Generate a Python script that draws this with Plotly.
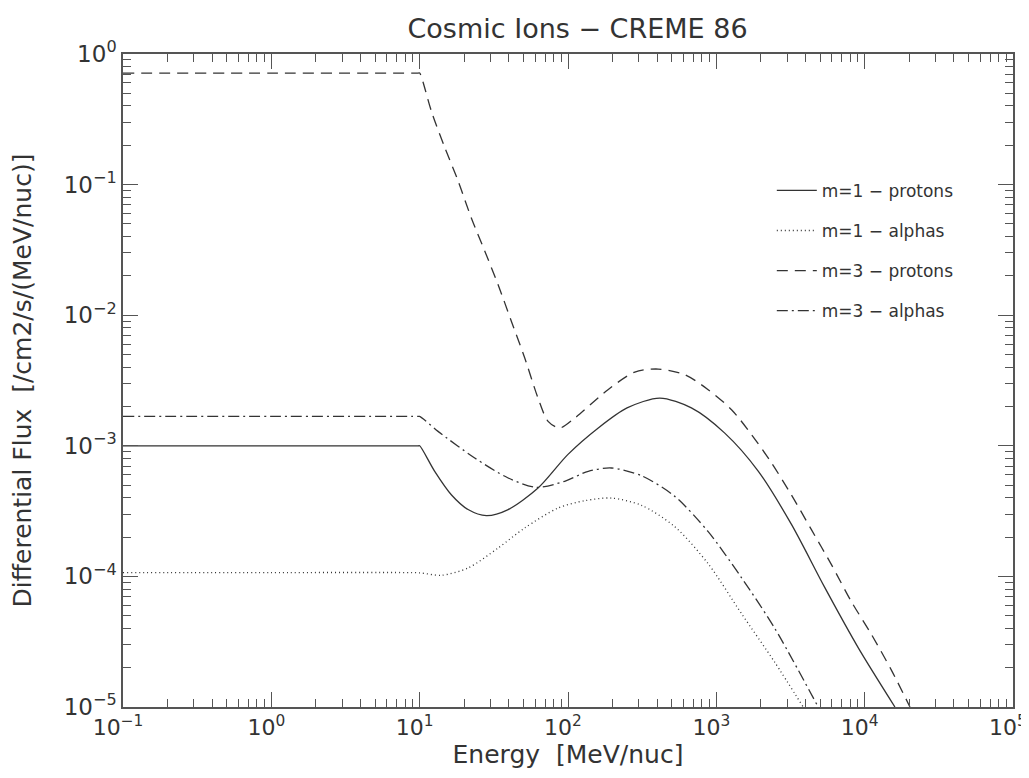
import plotly.graph_objects as go

# ---------------- data ----------------
E_p1 = [0.1, 1, 9, 9.8, 10, 12.6, 16.4, 21.2, 28.2, 39.5, 62.8, 100, 160, 250, 416, 679, 1140, 1915, 3210, 5390, 9040, 16000]
F_p1 = [1.0e-3, 1.0e-3, 1.0e-3, 1.0e-3, 1.0e-3, 6.4e-4, 4.2e-4, 3.25e-4, 2.92e-4, 3.25e-4, 4.75e-4, 8.6e-4, 1.37e-3,
        1.95e-3, 2.32e-3, 1.95e-3, 1.25e-3, 6.4e-4, 2.5e-4, 8.2e-5, 2.85e-5, 1.0e-5]

E_a1 = [0.1, 1, 8, 10, 14, 21.2, 33.8, 51.1, 85.7, 130, 196, 313, 525, 881, 1476, 2477, 3850]
F_a1 = [1.07e-4, 1.07e-4, 1.07e-4, 1.065e-4, 1.02e-4, 1.16e-4, 1.65e-4, 2.35e-4, 3.34e-4, 3.80e-4, 3.98e-4,
        3.5e-4, 2.4e-4, 1.25e-4, 5.2e-5, 2.2e-5, 1.0e-5]

E_p3 = [0.1, 1, 9, 9.8, 10, 10.5, 12.0, 14.8, 18.2, 22.3, 27.5, 33.8, 41.5, 51.1, 62.8, 73.4, 88, 111, 186, 282, 405,
        614, 881, 1266, 1726, 2355, 3210, 4375, 5970, 8140, 11100, 15200, 20200]
F_p3 = [0.715, 0.715, 0.715, 0.715, 0.715, 0.617, 0.364, 0.191, 0.106, 0.0555, 0.0309, 0.0171, 0.0090, 0.0047, 0.00232,
        0.00154, 0.00137, 0.00163, 0.00269, 0.00367, 0.00387, 0.0035, 0.00269, 0.00189, 0.00122, 7.4e-4, 4.2e-4,
        2.28e-4, 1.23e-4, 6.4e-5, 3.6e-5, 1.9e-5, 1.0e-5]

E_a3 = [0.1, 1, 9, 9.8, 10, 13.3, 23.5, 39.5, 61.2, 95, 137, 196, 313, 525, 881, 1476, 2477, 4860]
F_a3 = [1.68e-3, 1.68e-3, 1.68e-3, 1.68e-3, 1.68e-3, 1.29e-3, 8.07e-4, 5.67e-4, 4.81e-4, 5.35e-4, 6.38e-4, 6.76e-4,
        5.9e-4, 4.1e-4, 2.2e-4, 9.8e-5, 4.0e-5, 1.0e-5]

series_names = ["m=1 \u2212 protons", "m=1 \u2212 alphas", "m=3 \u2212 protons", "m=3 \u2212 alphas"]

x_major = [0.1, 1, 10, 100, 1000, 10000, 100000]
x_major_text = ["10<sup>\u22121</sup>", "10<sup>0</sup>", "10<sup>1</sup>", "10<sup>2</sup>",
                "10<sup>3</sup>", "10<sup>4</sup>", "10<sup>5</sup>"]
y_major = [1e-5, 1e-4, 1e-3, 1e-2, 1e-1, 1]
y_major_text = ["10<sup>\u22125</sup>", "10<sup>\u22124</sup>", "10<sup>\u22123</sup>",
                "10<sup>\u22122</sup>", "10<sup>\u22121</sup>", "10<sup>0</sup>"]

# ---------------- figure ----------------
INK = "#333333"
AX = "#555555"
FONT = "DejaVu Sans"

x_minor = [m * 10 ** e for e in range(-1, 5) for m in range(2, 10)]
y_minor = [m * 10 ** e for e in range(-5, 0) for m in range(2, 10)]

dashes = ["solid", "1px,3px", "11px,7px", "11px,4px,2px,4px"]
data = [(E_p1, F_p1), (E_a1, F_a1), (E_p3, F_p3), (E_a3, F_a3)]

fig = go.Figure()
for i, ((xs, ys), dsh) in enumerate(zip(data, dashes)):
    fig.add_trace(go.Scatter(
        x=xs, y=ys, mode="lines", name=series_names[i], legendgroup=f"g{i}",
        line=dict(color=INK, width=1.3, dash=dsh, shape="spline", smoothing=0.8),
    ))

axis_common = dict(
    type="log", showgrid=False, zeroline=False, automargin=False,
    showline=True, linecolor=AX, linewidth=1.5, mirror="allticks",
    ticks="inside", ticklen=15, tickwidth=1.2, tickcolor=AX,
)

fig.update_xaxes(
    **axis_common, range=[-1, 5], tickmode="array", tickvals=x_major, ticktext=x_major_text,
    tickfont=dict(family=FONT, size=22, color=INK), ticklabelshift=-5,
    minor=dict(ticks="inside", ticklen=8, tickwidth=1, tickcolor=AX, tickmode="array", tickvals=x_minor),
    title=dict(text="Energy  [MeV/nuc]", font=dict(family=FONT, size=25, color=INK), standoff=4),
)
fig.update_yaxes(
    **axis_common, range=[-5, 0], tickmode="array", tickvals=y_major, ticktext=y_major_text,
    tickfont=dict(family=FONT, size=23, color=INK),
    minor=dict(ticks="inside", ticklen=8, tickwidth=1, tickcolor=AX, tickmode="array", tickvals=y_minor),
    title=dict(text="Differential Flux  [/cm2/s/(MeV/nuc)]", font=dict(family=FONT, size=25, color=INK),
               standoff=26),
)

fig.update_layout(
    width=1029, height=778,
    margin=dict(l=115, r=24, t=46, b=79),
    paper_bgcolor="white", plot_bgcolor="white",
    title=dict(text="Cosmic Ions \u2212 CREME 86", x=0.5535, xanchor="center", y=0.974, yanchor="middle",
               font=dict(family=FONT, size=27, color=INK)),
    showlegend=True,
    legend=dict(x=0.729, y=0.818, xanchor="left", yanchor="top", bgcolor="rgba(0,0,0,0)",
                font=dict(family=FONT, size=17, color=INK), traceorder="grouped", tracegroupgap=15,
                itemwidth=40),
)

fig.write_html("out.html")
